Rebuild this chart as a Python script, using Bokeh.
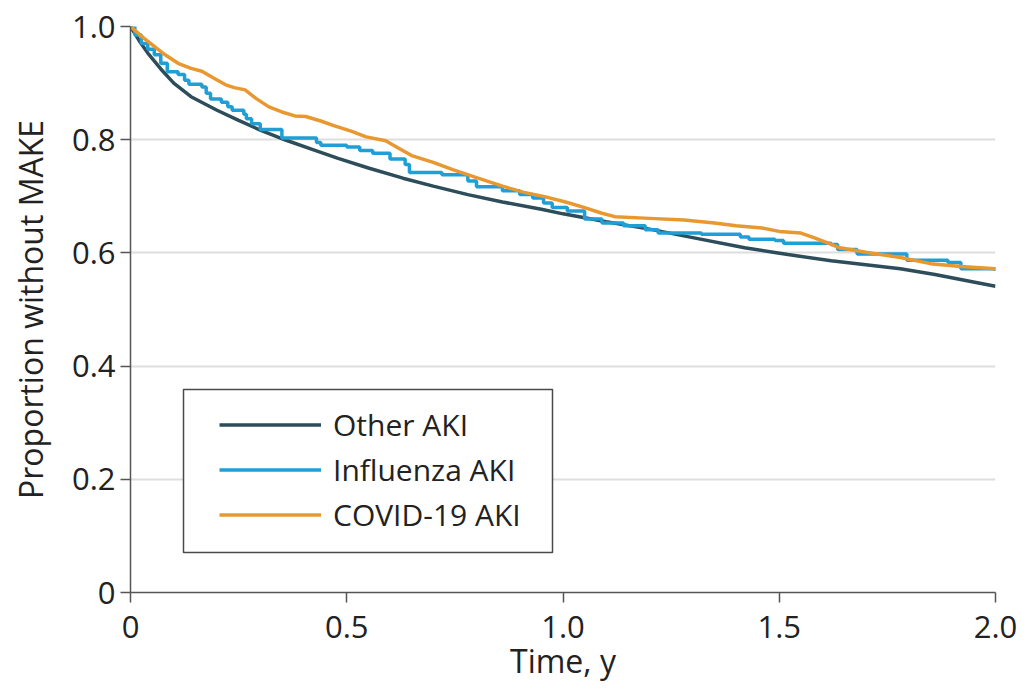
from bokeh.plotting import figure
from bokeh.models import (Range1d, FixedTicker, CustomJSTickFormatter, Legend,
                          LegendItem, BoxAnnotation)
from bokeh.embed import file_html
from bokeh.resources import INLINE

# ---------------- data ----------------
other_x = [0, 0.02, 0.04, 0.07, 0.10, 0.14, 0.20, 0.25, 0.30, 0.36, 0.42, 0.48,
           0.55, 0.63, 0.70, 0.78, 0.86, 0.95, 1.00, 1.10, 1.20, 1.30, 1.42,
           1.52, 1.62, 1.70, 1.78, 1.86, 1.94, 2.00]
other_y = [1.0, 0.975, 0.953, 0.925, 0.900, 0.876, 0.852, 0.834, 0.817, 0.799,
           0.783, 0.767, 0.750, 0.732, 0.718, 0.703, 0.690, 0.677, 0.669, 0.655,
           0.642, 0.627, 0.609, 0.597, 0.586, 0.579, 0.572, 0.562, 0.550, 0.541]

flu_x = [0, 0.01, 0.025, 0.04, 0.055, 0.07, 0.085, 0.11, 0.125, 0.135, 0.165,
         0.175, 0.185, 0.21, 0.225, 0.235, 0.262, 0.268, 0.28, 0.30, 0.35, 0.43,
         0.44, 0.50, 0.53, 0.56, 0.60, 0.635, 0.645, 0.72, 0.78, 0.80, 0.86,
         0.90, 0.93, 0.955, 0.975, 1.01, 1.05, 1.09, 1.14, 1.19, 1.22, 1.32,
         1.41, 1.43, 1.49, 1.51, 1.62, 1.635, 1.68, 1.795, 1.89, 1.92, 2.00]
flu_y = [1.0, 0.985, 0.97, 0.96, 0.95, 0.935, 0.92, 0.915, 0.905, 0.898, 0.893,
         0.882, 0.872, 0.866, 0.858, 0.852, 0.845, 0.837, 0.828, 0.818, 0.803,
         0.795, 0.790, 0.787, 0.781, 0.776, 0.766, 0.756, 0.742, 0.738, 0.727,
         0.717, 0.710, 0.703, 0.697, 0.688, 0.680, 0.674, 0.660, 0.653, 0.648,
         0.641, 0.635, 0.633, 0.628, 0.624, 0.622, 0.617, 0.615, 0.606, 0.598,
         0.587, 0.583, 0.572, 0.568]

covid_x = [0, 0.03, 0.055, 0.08, 0.11, 0.14, 0.165, 0.19, 0.22, 0.24, 0.265,
           0.29, 0.32, 0.35, 0.38, 0.405, 0.44, 0.47, 0.51, 0.545, 0.59, 0.62,
           0.65, 0.70, 0.745, 0.80, 0.86, 0.91, 0.96, 1.01, 1.05, 1.09, 1.12,
           1.20, 1.28, 1.35, 1.40, 1.46, 1.50, 1.55, 1.58, 1.61, 1.64, 1.70,
           1.78, 1.85, 1.92, 2.00]
covid_y = [1.0, 0.98, 0.965, 0.95, 0.935, 0.926, 0.921, 0.91, 0.897, 0.892,
           0.888, 0.873, 0.858, 0.849, 0.842, 0.841, 0.833, 0.825, 0.815, 0.805,
           0.798, 0.785, 0.772, 0.760, 0.747, 0.733, 0.718, 0.707, 0.699, 0.689,
           0.680, 0.670, 0.664, 0.661, 0.658, 0.653, 0.648, 0.644, 0.638, 0.635,
           0.627, 0.618, 0.609, 0.601, 0.592, 0.581, 0.576, 0.572]

series_names = ["Other AKI", "Influenza AKI", "COVID-19 AKI"]
x_ticks = [0, 0.5, 1.0, 1.5, 2.0]
y_ticks = [0, 0.2, 0.4, 0.6, 0.8, 1.0]
x_label = "Time, y"
y_label = "Proportion without MAKE"

# ---------------- styling ----------------
C_OTHER = "#2d4d5b"
C_FLU = "#1f9fd6"
C_COVID = "#e8982f"
AXIS_C = "#555555"
FONT = "Open Sans"

p = figure(width=1017, height=684, output_backend="svg", toolbar_location=None,
           x_range=Range1d(0, 2), y_range=Range1d(0, 1),
           min_border_left=130, min_border_right=22, min_border_top=26,
           min_border_bottom=86)
p.outline_line_color = None
p.background_fill_color = "white"
p.border_fill_color = "white"
p.xgrid.visible = False
p.ygrid.grid_line_color = "#dedede"
p.ygrid.grid_line_width = 2

p.xaxis.ticker = FixedTicker(ticks=x_ticks)
p.yaxis.ticker = FixedTicker(ticks=y_ticks)
fmt = "return tick == 0 ? '0' : tick.toFixed(1);"
p.xaxis.formatter = CustomJSTickFormatter(code=fmt)
p.yaxis.formatter = CustomJSTickFormatter(code=fmt)

for ax in (p.xaxis[0], p.yaxis[0]):
    ax.axis_line_color = AXIS_C
    ax.axis_line_width = 1.5
    ax.major_tick_line_color = AXIS_C
    ax.major_tick_line_width = 1.5
    ax.major_tick_out = 10
    ax.major_tick_in = 0
    ax.minor_tick_line_color = None
    ax.major_label_text_font = FONT
    ax.major_label_text_font_size = "31px"
    ax.major_label_text_color = "#222222"
    ax.axis_label_text_font = FONT
    ax.axis_label_text_font_size = "32px"
    ax.axis_label_text_font_style = "normal"
    ax.axis_label_text_color = "#222222"

p.xaxis.axis_label = x_label
p.yaxis.axis_label = y_label
p.xaxis.major_label_standoff = 13
p.yaxis.major_label_standoff = 5
p.xaxis.axis_label_standoff = -2
p.yaxis.axis_label_standoff = 17

r_other = p.line(other_x, other_y, line_color=C_OTHER, line_width=3.5)
r_flu = p.step(flu_x, flu_y, mode="after", line_color=C_FLU, line_width=3.5)
r_covid = p.line(covid_x, covid_y, line_color=C_COVID, line_width=3.5)

box = BoxAnnotation(left=53, right=422, bottom=40, top=203,
                    left_units="screen", right_units="screen",
                    bottom_units="screen", top_units="screen",
                    fill_color="white", fill_alpha=1.0,
                    line_color="#4a4a4a", line_alpha=1.0, line_width=1.5)
p.add_layout(box)

legend = Legend(items=[LegendItem(label=series_names[0], renderers=[r_other]),
                       LegendItem(label=series_names[1], renderers=[r_flu]),
                       LegendItem(label=series_names[2], renderers=[r_covid])],
                location=(89, 57), orientation="vertical",
                padding=0, margin=0, spacing=4,
                glyph_width=102, glyph_height=41, label_height=41,
                label_standoff=12,
                label_text_font=FONT, label_text_font_size="30px",
                label_text_color="#222222",
                border_line_color=None, background_fill_alpha=0)
p.add_layout(legend, "center")

open("out.html", "w").write(file_html(p, INLINE))
